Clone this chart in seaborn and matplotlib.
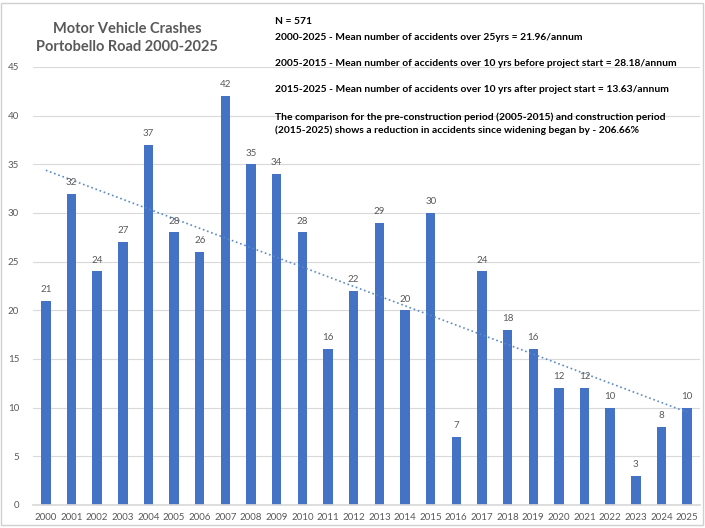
import numpy as np
import pandas as pd
import matplotlib
matplotlib.use("Agg")
import matplotlib.pyplot as plt
import seaborn as sns
from matplotlib.patches import Rectangle

years = [str(y) for y in range(2000, 2026)]
crashes = [21, 32, 24, 27, 37, 28, 26, 42, 35, 34, 28, 16, 22, 29, 20, 30,
           7, 24, 18, 16, 12, 12, 10, 3, 8, 10]
y_ticks = [0, 5, 10, 15, 20, 25, 30, 35, 40, 45]

title_text = "Motor Vehicle Crashes\nPortobello Road 2000-2025"
notes = [
    "N = 571",
    "2000-2025 - Mean number of accidents over 25yrs = 21.96/annum",
    "2005-2015 - Mean number of accidents over 10 yrs before project start = 28.18/annum",
    "2015-2025 - Mean number of accidents over 10 yrs after project start = 13.63/annum",
    "The comparison for the pre-construction period (2005-2015) and construction period\n(2015-2025) shows a reduction in accidents since widening began by - 206.66%",
]

sns.set_theme(style="white")
plt.rcParams['font.family'] = ['Lato', 'DejaVu Sans']

df = pd.DataFrame({"year": years, "crashes": crashes})

fig = plt.figure(figsize=(7.05, 5.28), dpi=100)
ax = fig.add_axes([33/705, (528-505)/528, (700-33)/705, (505-67)/528])

sns.barplot(data=df, x="year", y="crashes", color="#4472C4", width=0.37,
            saturation=1, ax=ax, linewidth=0)
sns.regplot(x=np.arange(len(crashes)), y=np.array(crashes, dtype=float), scatter=False,
            ci=None, truncate=True, ax=ax,
            line_kws=dict(ls=":", color="#5B8BC9", lw=1.2))

for i, v in enumerate(crashes):
    ax.text(i, v + 0.7, str(v), ha="center", va="bottom", fontsize=7, color="#595959")

ax.set_xlim(-0.5, len(crashes) - 0.5)
ax.set_ylim(0, 45)
ax.set_yticks(y_ticks)
ax.yaxis.grid(True, color="#D9D9D9", lw=0.8)
ax.set_axisbelow(True)
for s in ["left", "right", "top"]:
    ax.spines[s].set_visible(False)
ax.spines["bottom"].set_color("#D9D9D9")
ax.tick_params(axis="both", labelsize=7, colors="#595959", length=0, pad=6)
ax.tick_params(axis="y", pad=10)
ax.set_xlabel("")
ax.set_ylabel("")

fig.text(127/705, 1 - 38/528, title_text, ha="center", va="center", fontsize=10.5,
         color="#595959", fontweight="bold", linespacing=1.4)

ys = [22, 38, 63, 90, 124]
for t, yy in zip(notes, ys):
    fig.text(275/705, 1 - yy/528, t, ha="left", va="center", fontsize=7.4,
             color="black", fontweight="bold", linespacing=1.45)

fig.patches.append(Rectangle((1/705, 3/528), 702/705, 522/528, transform=fig.transFigure,
                             fill=False, edgecolor="#D0D0D0", lw=1))

fig.savefig("out.png", dpi=100)
